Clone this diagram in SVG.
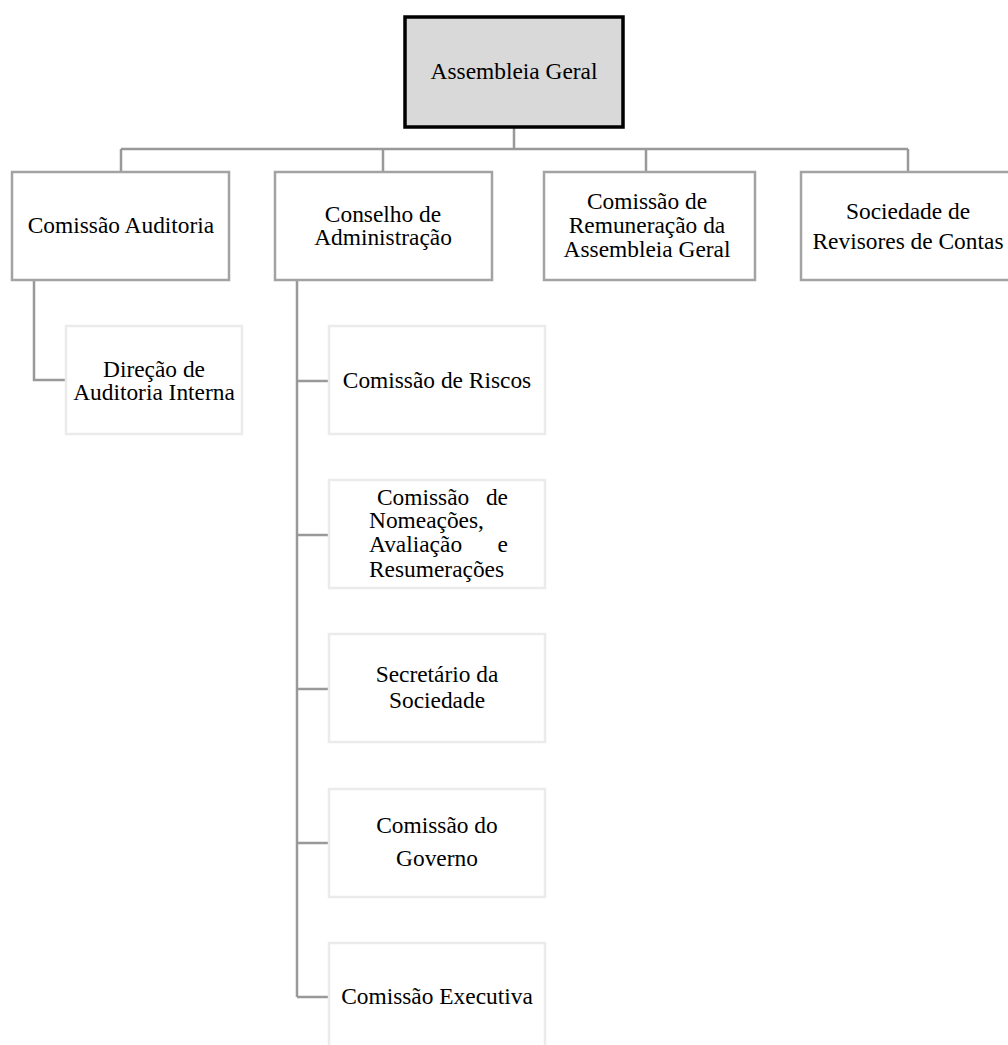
<svg xmlns="http://www.w3.org/2000/svg" width="1008" height="1045" viewBox="0 0 1008 1045">
<style>
text{font-family:"Liberation Serif","Times New Roman",serif;font-size:23.4px;fill:#000;text-anchor:middle}
.l{text-anchor:start}
.e{text-anchor:end}
.top{fill:#d9d9d9;stroke:#000;stroke-width:3.5}
.l1{fill:#fff;stroke:#a3a3a3;stroke-width:2.5}
.l2{fill:#fff;stroke:#ebebeb;stroke-width:2.5}
.conn{fill:none;stroke:#999;stroke-width:2.5}
</style>
<rect width="1008" height="1045" fill="#fff"/>
<g id="connectors" class="conn">
<path d="M514,127V149M121,149H908M121,149V172M383,149V172M646,149V172M908,149V172"/>
<path d="M34,280V380H66"/>
<path d="M297,280V997M297,381H329M297,535H329M297,689H329M297,843H329M297,997H329"/>
</g>
<g id="assembleia-geral">
<rect class="top" x="405" y="17" width="218" height="110"/>
<text x="514" y="79">Assembleia Geral</text>
</g>
<g id="comissao-auditoria">
<rect class="l1" x="12" y="172" width="217" height="108"/>
<text x="121" y="233">Comissão Auditoria</text>
</g>
<g id="conselho-administracao">
<rect class="l1" x="275" y="172" width="217" height="108"/>
<text x="383" y="222">Conselho de</text>
<text x="383" y="245">Administração</text>
</g>
<g id="comissao-remuneracao">
<rect class="l1" x="544" y="172" width="211" height="108"/>
<text x="647" y="209">Comissão de</text>
<text x="647" y="233">Remuneração da</text>
<text x="647" y="257">Assembleia Geral</text>
</g>
<g id="sociedade-revisores">
<rect class="l1" x="801" y="172" width="217" height="108"/>
<text x="908" y="219">Sociedade de</text>
<text x="908" y="249">Revisores de Contas</text>
</g>
<g id="direcao-auditoria-interna">
<rect class="l2" x="66" y="326" width="176" height="108"/>
<text x="154" y="377">Direção de</text>
<text x="154" y="400">Auditoria Interna</text>
</g>
<g id="comissao-riscos">
<rect class="l2" x="329" y="326" width="216" height="108"/>
<text x="437" y="388">Comissão de Riscos</text>
</g>
<g id="comissao-nomeacoes">
<rect class="l2" x="329" y="480" width="216" height="108"/>
<text class="l" x="377" y="505">Comissão</text>
<text class="e" x="508" y="505">de</text>
<text class="l" x="369" y="528">Nomeações,</text>
<text class="l" x="369" y="552">Avaliação</text>
<text class="e" x="508" y="552">e</text>
<text class="l" x="369" y="577">Resumerações</text>
</g>
<g id="secretario-sociedade">
<rect class="l2" x="329" y="634" width="216" height="108"/>
<text x="437" y="682">Secretário da</text>
<text x="437" y="708">Sociedade</text>
</g>
<g id="comissao-governo">
<rect class="l2" x="329" y="789" width="216" height="108"/>
<text x="437" y="833">Comissão do</text>
<text x="437" y="866">Governo</text>
</g>
<g id="comissao-executiva">
<rect class="l2" x="329" y="943" width="216" height="108"/>
<text x="437" y="1004">Comissão Executiva</text>
</g>
</svg>
